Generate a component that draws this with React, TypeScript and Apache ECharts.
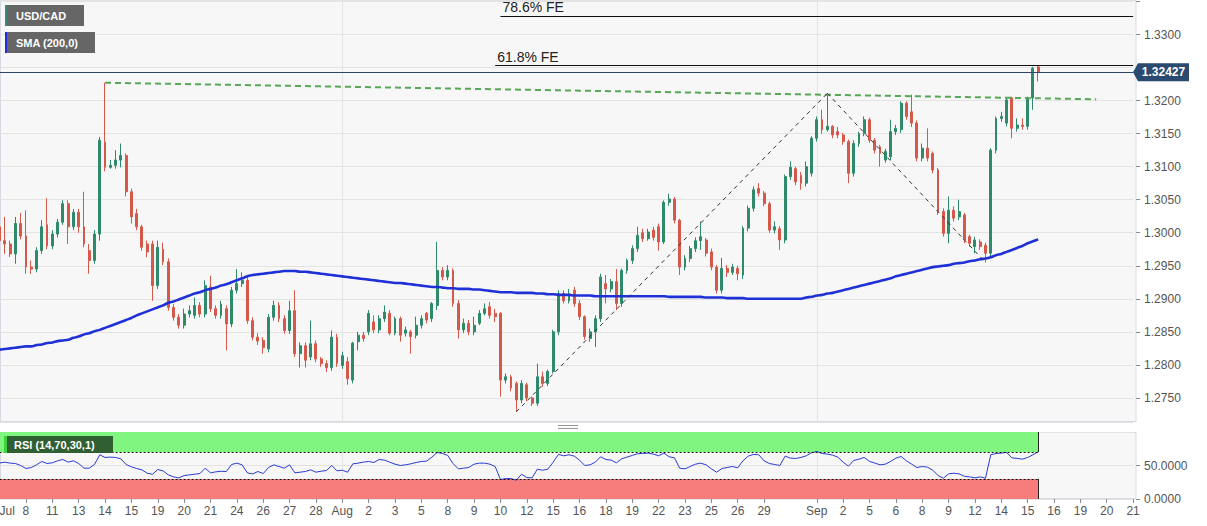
import React, { useEffect, useRef } from "react";
import * as echarts from "echarts";

// ---------- data ----------
const X_TICK_LABELS = [
  "Jul", "8", "11", "13", "14", "15", "19", "20", "21", "24", "26", "27", "28",
  "Aug", "2", "3", "5", "8", "9", "10", "12", "15", "16", "18", "19", "22", "23",
  "25", "26", "29", "", "Sep", "2", "5", "6", "8", "9", "12", "14", "15", "16",
  "19", "20", "21",
];
const SLOT_COUNT = 216;
const TICK_EVERY = 5;

const OPEN = [
  1.3009, 1.2988, 1.2983, 1.2968, 1.3014, 1.2995, 1.2948, 1.2945, 1.2973, 1.3012,
  1.2980, 1.2998, 1.3016, 1.3044, 1.3009, 1.3031, 1.3009, 1.2973, 1.2958, 1.2998,
  1.3137, 1.3099, 1.3102, 1.3110, 1.3117, 1.3062, 1.3029, 1.3009, 1.2983, 1.2983,
  1.2920, 1.2975, 1.2956, 1.2887, 1.2872, 1.2860, 1.2877, 1.2875, 1.2890, 1.2877,
  1.2918, 1.2885, 1.2875, 1.2885, 1.2862, 1.2913, 1.2923, 1.2928, 1.2867, 1.2842,
  1.2837, 1.2824, 1.2872, 1.2890, 1.2870, 1.2852, 1.2882, 1.2817, 1.2829, 1.2812,
  1.2832, 1.2809, 1.2802, 1.2796, 1.2842, 1.2799, 1.2805, 1.2777, 1.2835, 1.2845,
  1.2850, 1.2865, 1.2853, 1.2870, 1.2878, 1.2848, 1.2870, 1.2848, 1.2850, 1.2845,
  1.2860, 1.2878, 1.2870, 1.2890, 1.2943, 1.2933, 1.2943, 1.2893, 1.2853, 1.2863,
  1.2850, 1.2863, 1.2878, 1.2888, 1.2878, 1.2878, 1.2777, 1.2782, 1.2772, 1.2747,
  1.2770, 1.2750, 1.2742, 1.2782, 1.2772, 1.2790, 1.2850, 1.2908, 1.2897, 1.2913,
  1.2893, 1.2873, 1.2840, 1.2850, 1.2870, 1.2923, 1.2915, 1.2926, 1.2893, 1.2943,
  1.2958, 1.2976, 1.3000, 1.2991, 1.3004, 1.3009, 1.2986, 1.3046, 1.3051, 1.3019,
  1.2948, 1.2961, 1.2976, 1.2988, 1.2989, 1.2971, 1.2948, 1.2913, 1.2946, 1.2940,
  1.2946, 1.2936, 1.3007, 1.3037, 1.3067, 1.3060, 1.3044, 1.3004, 1.3006, 1.2989,
  1.3085, 1.3097, 1.3087, 1.3075, 1.3090, 1.3143, 1.3171, 1.3156, 1.3161, 1.3153,
  1.3148, 1.3138, 1.3090, 1.3135, 1.3150, 1.3171, 1.3140, 1.3130, 1.3110, 1.3115,
  1.3153, 1.3156, 1.3196, 1.3183, 1.3166, 1.3113, 1.3128, 1.3120, 1.3095, 1.3032,
  1.2999, 1.3034, 1.3024, 1.3027, 1.2994, 1.2979, 1.2986, 1.2981, 1.2969, 1.3125,
  1.3173, 1.3166, 1.3204, 1.3158, 1.3163, 1.3161, 1.3204, 1.3251,
];
const CLOSE = [
  1.2988, 1.2983, 1.2968, 1.3014, 1.2995, 1.2948, 1.2945, 1.2973, 1.3009, 1.2980,
  1.2998, 1.3016, 1.3044, 1.3009, 1.3031, 1.3009, 1.2983, 1.2958, 1.2998, 1.3140,
  1.3099, 1.3102, 1.3110, 1.3117, 1.3062, 1.3024, 1.3009, 1.2978, 1.2971, 1.2920,
  1.2978, 1.2956, 1.2887, 1.2872, 1.2860, 1.2877, 1.2882, 1.2890, 1.2877, 1.2920,
  1.2885, 1.2875, 1.2892, 1.2862, 1.2913, 1.2923, 1.2928, 1.2867, 1.2842, 1.2836,
  1.2826, 1.2872, 1.2890, 1.2870, 1.2852, 1.2882, 1.2817, 1.2829, 1.2807, 1.2832,
  1.2809, 1.2802, 1.2796, 1.2842, 1.2802, 1.2814, 1.2779, 1.2833, 1.2845, 1.2840,
  1.2878, 1.2853, 1.2870, 1.2880, 1.2848, 1.2870, 1.2845, 1.2853, 1.2843, 1.2860,
  1.2870, 1.2868, 1.2893, 1.2943, 1.2933, 1.2943, 1.2893, 1.2853, 1.2863, 1.2850,
  1.2860, 1.2878, 1.2885, 1.2875, 1.2873, 1.2777, 1.2782, 1.2765, 1.2747, 1.2772,
  1.2750, 1.2742, 1.2782, 1.2772, 1.2790, 1.2850, 1.2908, 1.2897, 1.2908, 1.2893,
  1.2873, 1.2843, 1.2850, 1.2870, 1.2933, 1.2915, 1.2926, 1.2893, 1.2943, 1.2958,
  1.2976, 1.2996, 1.2991, 1.3001, 1.2993, 1.2986, 1.3046, 1.3051, 1.3019, 1.2948,
  1.2961, 1.2976, 1.2988, 1.2994, 1.2969, 1.2948, 1.2913, 1.2946, 1.2940, 1.2948,
  1.2938, 1.3007, 1.3037, 1.3065, 1.3060, 1.3044, 1.3004, 1.3009, 1.2989, 1.3085,
  1.3099, 1.3077, 1.3075, 1.3100, 1.3143, 1.3171, 1.3156, 1.3161, 1.3148, 1.3148,
  1.3138, 1.3090, 1.3135, 1.3150, 1.3171, 1.3140, 1.3125, 1.3120, 1.3123, 1.3153,
  1.3158, 1.3196, 1.3176, 1.3166, 1.3113, 1.3128, 1.3113, 1.3095, 1.3032, 1.2999,
  1.3034, 1.3022, 1.3032, 1.2989, 1.2984, 1.2989, 1.2979, 1.2969, 1.3125, 1.3173,
  1.3176, 1.3201, 1.3158, 1.3163, 1.3161, 1.3204, 1.3249, 1.32427,
];
const LOW = [
  1.2973, 1.2968, 1.2963, 1.2953, 1.2990, 1.2938, 1.2938, 1.2940, 1.2968, 1.2975,
  1.2975, 1.2993, 1.3012, 1.2983, 1.3004, 1.3000, 1.2978, 1.2938, 1.2953, 1.2988,
  1.3093, 1.3097, 1.3097, 1.3099, 1.3055, 1.3014, 1.3004, 1.2973, 1.2963, 1.2897,
  1.2915, 1.2951, 1.2882, 1.2867, 1.2855, 1.2855, 1.2872, 1.2870, 1.2872, 1.2872,
  1.2880, 1.2870, 1.2870, 1.2822, 1.2857, 1.2908, 1.2918, 1.2862, 1.2837, 1.2830,
  1.2817, 1.2819, 1.2867, 1.2865, 1.2847, 1.2847, 1.2812, 1.2796, 1.2796, 1.2807,
  1.2804, 1.2797, 1.2789, 1.2791, 1.2797, 1.2794, 1.2770, 1.2772, 1.2822, 1.2835,
  1.2845, 1.2848, 1.2848, 1.2865, 1.2845, 1.2845, 1.2835, 1.2843, 1.2817, 1.2840,
  1.2855, 1.2863, 1.2865, 1.2883, 1.2928, 1.2928, 1.2888, 1.2840, 1.2848, 1.2845,
  1.2845, 1.2860, 1.2875, 1.2870, 1.2865, 1.2752, 1.2772, 1.2760, 1.2729, 1.2742,
  1.2745, 1.2738, 1.2738, 1.2767, 1.2768, 1.2787, 1.2845, 1.2893, 1.2893, 1.2888,
  1.2868, 1.2838, 1.2835, 1.2827, 1.2865, 1.2893, 1.2910, 1.2883, 1.2888, 1.2938,
  1.2953, 1.2971, 1.2986, 1.2988, 1.2988, 1.2973, 1.2983, 1.3041, 1.3014, 1.2936,
  1.2943, 1.2956, 1.2971, 1.2974, 1.2964, 1.2943, 1.2908, 1.2908, 1.2933, 1.2936,
  1.2928, 1.2930, 1.3002, 1.3032, 1.3055, 1.3040, 1.3000, 1.2999, 1.2974, 1.2984,
  1.3080, 1.3072, 1.3065, 1.3070, 1.3085, 1.3138, 1.3150, 1.3153, 1.3143, 1.3143,
  1.3133, 1.3075, 1.3085, 1.3130, 1.3146, 1.3136, 1.3120, 1.3100, 1.3106, 1.3110,
  1.3148, 1.3151, 1.3171, 1.3160, 1.3108, 1.3108, 1.3108, 1.3090, 1.3027, 1.2994,
  1.2984, 1.3017, 1.3019, 1.2984, 1.2979, 1.2969, 1.2974, 1.2955, 1.2964, 1.3120,
  1.3168, 1.3161, 1.3143, 1.3153, 1.3156, 1.3156, 1.3186, 1.3229,
];
const HIGH = [
  1.3024, 1.3024, 1.2988, 1.3024, 1.3030, 1.3034, 1.2958, 1.2978, 1.3019, 1.3052,
  1.3004, 1.3021, 1.3049, 1.3049, 1.3036, 1.3036, 1.3062, 1.2983, 1.3004, 1.3145,
  1.3227, 1.3110, 1.3125, 1.3135, 1.3120, 1.3067, 1.3036, 1.3012, 1.2988, 1.2988,
  1.2988, 1.2985, 1.2961, 1.2892, 1.2877, 1.2885, 1.2890, 1.2902, 1.2895, 1.2928,
  1.2935, 1.2890, 1.2897, 1.2890, 1.2918, 1.2945, 1.2940, 1.2935, 1.2872, 1.2848,
  1.2842, 1.2877, 1.2897, 1.2895, 1.2875, 1.2897, 1.2913, 1.2834, 1.2834, 1.2867,
  1.2837, 1.2812, 1.2807, 1.2852, 1.2847, 1.2820, 1.2812, 1.2835, 1.2850, 1.2850,
  1.2883, 1.2875, 1.2875, 1.2890, 1.2883, 1.2873, 1.2873, 1.2858, 1.2853, 1.2873,
  1.2875, 1.2880, 1.2895, 1.2986, 1.2948, 1.2951, 1.2946, 1.2898, 1.2870, 1.2868,
  1.2873, 1.2883, 1.2893, 1.2895, 1.2885, 1.2880, 1.2787, 1.2785, 1.2775, 1.2777,
  1.2773, 1.2752, 1.2802, 1.2790, 1.2793, 1.2853, 1.2913, 1.2913, 1.2915, 1.2918,
  1.2898, 1.2875, 1.2855, 1.2875, 1.2938, 1.2936, 1.2930, 1.2945, 1.2946, 1.2961,
  1.2981, 1.3009, 1.3006, 1.3006, 1.3009, 1.3014, 1.3049, 1.3059, 1.3054, 1.3021,
  1.2966, 1.2980, 1.2993, 1.3017, 1.2992, 1.2976, 1.2951, 1.2962, 1.2951, 1.2953,
  1.2950, 1.3010, 1.3041, 1.3070, 1.3075, 1.3063, 1.3047, 1.3017, 1.3010, 1.3088,
  1.3108, 1.3100, 1.3092, 1.3108, 1.3146, 1.3176, 1.3186, 1.3211, 1.3163, 1.3160,
  1.3151, 1.3141, 1.3140, 1.3153, 1.3176, 1.3174, 1.3143, 1.3133, 1.3127, 1.3171,
  1.3163, 1.3199, 1.3199, 1.3209, 1.3170, 1.3135, 1.3158, 1.3123, 1.3098, 1.3037,
  1.3055, 1.3040, 1.3050, 1.3030, 1.2997, 1.2994, 1.2990, 1.2985, 1.3128, 1.3176,
  1.3183, 1.3204, 1.3206, 1.3173, 1.3173, 1.3206, 1.3251, 1.3253,
];
const SMA200 = [
  1.2823, 1.2824, 1.2825, 1.2826, 1.2827, 1.2828, 1.2828, 1.2830, 1.2831, 1.2833,
  1.2834, 1.2836, 1.2837, 1.2838, 1.2841, 1.2843, 1.2846, 1.2848, 1.2851, 1.2853,
  1.2856, 1.2859, 1.2862, 1.2865, 1.2868, 1.2871, 1.2875, 1.2878, 1.2881, 1.2884,
  1.2887, 1.2890, 1.2894, 1.2896, 1.2899, 1.2902, 1.2905, 1.2908, 1.2910, 1.2913,
  1.2915, 1.2917, 1.2920, 1.2922, 1.2925, 1.2928, 1.2931, 1.2934, 1.2936, 1.2937,
  1.2938, 1.2939, 1.2940, 1.2941, 1.2942, 1.2942, 1.2942, 1.2941, 1.2941, 1.2940,
  1.2939, 1.2938, 1.2937, 1.2936, 1.2935, 1.2934, 1.2933, 1.2932, 1.2931, 1.2930,
  1.2929, 1.2928, 1.2927, 1.2926, 1.2925, 1.2924, 1.2924, 1.2923, 1.2922, 1.2921,
  1.2920, 1.2919, 1.2918, 1.2918, 1.2917, 1.2916, 1.2916, 1.2915, 1.2915, 1.2915,
  1.2914, 1.2914, 1.2913, 1.2912, 1.2911, 1.2910, 1.2910, 1.2910, 1.2909, 1.2909,
  1.2909, 1.2909, 1.2908, 1.2908, 1.2907, 1.2907, 1.2906, 1.2906, 1.2906, 1.2905,
  1.2905, 1.2905, 1.2905, 1.2904, 1.2904, 1.2904, 1.2904, 1.2904, 1.2904, 1.2904,
  1.2904, 1.2904, 1.2904, 1.2904, 1.2904, 1.2904, 1.2904, 1.2903, 1.2903, 1.2903,
  1.2903, 1.2903, 1.2903, 1.2903, 1.2902, 1.2902, 1.2902, 1.2902, 1.2901, 1.2901,
  1.2901, 1.2901, 1.2900, 1.2900, 1.2900, 1.2900, 1.2900, 1.2900, 1.2900, 1.2900,
  1.2900, 1.2900, 1.2900, 1.2902, 1.2903, 1.2905, 1.2906, 1.2908, 1.2909, 1.2911,
  1.2913, 1.2915, 1.2917, 1.2919, 1.2921, 1.2923, 1.2925, 1.2927, 1.2929, 1.2931,
  1.2934, 1.2936, 1.2938, 1.2940, 1.2942, 1.2944, 1.2946, 1.2948, 1.2949, 1.2950,
  1.2951, 1.2953, 1.2954, 1.2955, 1.2957, 1.2958, 1.2960, 1.2961, 1.2963, 1.2966,
  1.2968, 1.2971, 1.2974, 1.2977, 1.2980, 1.2984, 1.2987, 1.2990,
];
const RSI14 = [
  53.7, 55, 53.5, 53, 50, 45.5, 47, 51, 56, 53,
  54, 57, 59, 55, 57, 53, 46, 46, 51.5, 66,
  62, 62.5, 62, 60, 51.5, 48, 45.5, 43.5, 38.5, 37,
  44, 42, 36, 33, 31.5, 35, 36, 37, 38, 46,
  39, 40.5, 41.4, 41, 51.5, 53.5, 51, 39, 37.5, 41,
  38, 47, 51, 48.5, 46, 51, 39, 40, 41, 43.5,
  40, 41.5, 42.5, 50, 42, 43, 40, 52.5, 53.5, 55,
  56, 54.5, 59, 58, 55, 52, 50, 51, 52.5, 54.5,
  56, 56.5, 62.5, 69.5, 68, 65, 53, 45, 46, 47,
  52, 53.5, 53.5, 52, 48.5, 29, 30.5, 30.5, 28, 37,
  32, 31.5, 44.5, 43, 44.5, 55, 66.5, 64.5, 66, 64,
  58, 50, 51, 55, 63, 59, 58, 54, 60, 62.5,
  65, 67.5, 68, 68.5, 67, 64.5, 68.5, 63, 61.5, 46,
  45, 48.5, 52, 53.5, 51, 45, 40, 45.5, 47, 48.5,
  46.5, 57, 64, 66.5, 66, 57, 53, 51.5, 50, 64,
  61, 60.5, 62, 64.5, 69, 71, 68, 67, 65.5, 62.5,
  55, 49, 57.5, 59.5, 62, 56, 53.7, 51, 52, 56,
  61, 63.5, 57, 52, 47, 48.5, 47.5, 43, 35, 31,
  37.5, 38.5, 37.5, 34, 33, 31.5, 33, 31, 66, 68,
  68.5, 69.5, 61.5, 60.5, 59.5, 62, 66, 70.5,
];
const FE_LABELS = ["61.8% FE", "78.6% FE"];
const FE_VALUES = [1.3253, 1.3328];
const FE_START_INDEX = [94, 95];
const RESISTANCE_INDEX = [20, 208];
const RESISTANCE_VALUE = [1.3227, 1.3202];
const SWING_INDEX = [98, 157, 187];
const SWING_VALUE = [1.2729, 1.3211, 1.2955];
const RSI_LEVELS = [30, 70];
const PRICE_MIN = 1.271359;
const PRICE_MAX = 1.335221;

// ---------- styling ----------
const UP = "#2e8a6b";
const DOWN = "#d5594a";
const FONT = "Arial, 'Liberation Sans', Helvetica, sans-serif";
const PLOT_RIGHT = 1136;
const SLOT_LEFT = -0.4;
const SLOT_WIDTH_TOTAL = 1133.5;

export default function App() {
  const ref = useRef<HTMLDivElement>(null);

  useEffect(() => {
    if (!ref.current) return;
    const chart = echarts.init(ref.current, null, { renderer: "svg" });

    const slots = Array.from({ length: SLOT_COUNT }, (_, i) => String(i));
    const labelAt = (i: number) =>
      i % TICK_EVERY === 0 && i / TICK_EVERY < X_TICK_LABELS.length
        ? X_TICK_LABELS[i / TICK_EVERY]
        : "";
    const isTick = (i: number) => labelAt(i) !== "";
    const isMonth = (i: number) => labelAt(i) === "Aug" || labelAt(i) === "Sep";
    const candles = OPEN.map((o, i) => [o, CLOSE[i], LOW[i], HIGH[i]]);
    const lastIdx = CLOSE.length - 1;
    const lastPrice = CLOSE[lastIdx];

    const gridLine = { color: "#e3e3e3", width: 1 };

    const priceLabel = (v: number) => {
      if (v > PRICE_MAX - 0.001) return "";
      if (Math.abs(v - lastPrice) < 0.0012) return "";
      return v.toFixed(4);
    };

    const option: any = {
      animation: false,
      backgroundColor: "#ffffff",
      textStyle: { fontFamily: FONT },
      grid: [
        {
          left: SLOT_LEFT,
          top: 0,
          width: SLOT_WIDTH_TOTAL,
          height: 422,
          containLabel: false,
          outerBoundsMode: "none",
        },
        {
          left: SLOT_LEFT,
          top: 432,
          width: SLOT_WIDTH_TOTAL,
          height: 67,
          containLabel: false,
          outerBoundsMode: "none",
        },
      ],
      xAxis: [
        {
          type: "category",
          gridIndex: 0,
          data: slots,
          boundaryGap: false,
          axisLine: { show: false },
          axisTick: { show: false },
          axisLabel: { show: false },
          splitLine: { show: true, interval: (i: number) => isMonth(i), lineStyle: gridLine },
        },
        {
          type: "category",
          gridIndex: 1,
          data: slots,
          boundaryGap: false,
          axisLine: { show: false },
          axisTick: {
            show: true,
            interval: (i: number) => isTick(i),
            length: 4,
            lineStyle: { color: "#8a8a8a" },
          },
          axisLabel: {
            interval: (i: number) => isTick(i),
            formatter: (v: string) => labelAt(Number(v)),
            color: "#555",
            fontSize: 12,
            margin: 6,
            alignMinLabel: "left",
          },
          splitLine: { show: true, interval: (i: number) => isMonth(i), lineStyle: gridLine },
        },
      ],
      yAxis: [
        {
          type: "value",
          gridIndex: 0,
          position: "right",
          offset: 3,
          min: PRICE_MIN,
          max: PRICE_MAX,
          splitNumber: 13,
          minInterval: 0.005,
          maxInterval: 0.005,
          axisLine: { show: false },
          axisTick: { show: true, length: 4, lineStyle: { color: "#8a8a8a" } },
          axisLabel: {
            formatter: priceLabel,
            color: "#555",
            fontSize: 12,
            margin: 8,
            showMinLabel: false,
            showMaxLabel: false,
          },
          splitLine: { show: true, lineStyle: gridLine },
        },
        {
          type: "value",
          gridIndex: 1,
          position: "right",
          offset: 3,
          min: 0,
          max: 100,
          interval: 50,
          axisLine: { show: false },
          axisTick: { show: true, length: 4, lineStyle: { color: "#8a8a8a" } },
          axisLabel: {
            formatter: (v: number) => v.toFixed(4),
            color: "#555",
            fontSize: 12,
            margin: 8,
            showMaxLabel: false,
          },
          splitLine: { show: true, lineStyle: gridLine },
        },
      ],
      series: [
        {
          type: "candlestick",
          name: "USD/CAD",
          xAxisIndex: 0,
          yAxisIndex: 0,
          data: candles,
          barWidth: 2.4,
          itemStyle: {
            color: UP,
            color0: DOWN,
            borderColor: UP,
            borderColor0: DOWN,
            borderWidth: 1,
          },
          z: 2,
          markLine: {
            silent: true,
            symbol: ["none", "none"],
            animation: false,
            label: { show: false },
            data: [
              [
                {
                  coord: [0, lastPrice],
                  lineStyle: { color: "#2c4568", width: 1, type: "solid" },
                  label: { show: false },
                },
                { coord: [SLOT_COUNT - 1, lastPrice] },
              ],
              ...FE_VALUES.map((v, k) => [
                {
                  coord: [FE_START_INDEX[k], v],
                  lineStyle: { color: "#111", width: 1, type: "solid" },
                  label: {
                    show: true,
                    position: "insideStartTop",
                    formatter: FE_LABELS[k],
                    color: "#222",
                    fontSize: 14,
                    distance: 2,
                  },
                },
                { coord: [SLOT_COUNT - 1, v] },
              ]),
              [
                {
                  coord: [RESISTANCE_INDEX[0], RESISTANCE_VALUE[0]],
                  lineStyle: { color: "#55a855", width: 2, type: [6, 4] },
                },
                { coord: [RESISTANCE_INDEX[1], RESISTANCE_VALUE[1]] },
              ],
              [
                {
                  coord: [SWING_INDEX[0], SWING_VALUE[0]],
                  lineStyle: { color: "#333", width: 1, type: [4, 4] },
                },
                { coord: [SWING_INDEX[1], SWING_VALUE[1]] },
              ],
              [
                {
                  coord: [SWING_INDEX[1], SWING_VALUE[1]],
                  lineStyle: { color: "#333", width: 1, type: [4, 4] },
                },
                { coord: [SWING_INDEX[2], SWING_VALUE[2]] },
              ],
            ],
          },
        },
        {
          type: "line",
          name: "SMA (200,0)",
          xAxisIndex: 0,
          yAxisIndex: 0,
          data: SMA200,
          showSymbol: false,
          smooth: 0.3,
          lineStyle: { color: "#1f31d6", width: 2.6 },
          z: 4,
        },
        {
          type: "line",
          name: "RSI",
          xAxisIndex: 1,
          yAxisIndex: 1,
          data: RSI14,
          showSymbol: false,
          lineStyle: { color: "#2a3bd0", width: 1 },
          z: 3,
          markArea: {
            silent: true,
            data: [
              [
                { coord: [0, RSI_LEVELS[1]], itemStyle: { color: "#80f580" } },
                { coord: [lastIdx, 100] },
              ],
              [
                { coord: [0, 0], itemStyle: { color: "#f77c7c" } },
                { coord: [lastIdx, RSI_LEVELS[0]] },
              ],
            ],
          },
          markLine: {
            silent: true,
            symbol: ["none", "none"],
            label: { show: false },
            data: [
              ...RSI_LEVELS.map((lv) => [
                { coord: [0, lv], lineStyle: { color: "#111", width: 1, type: [2, 2] } },
                { coord: [lastIdx, lv] },
              ]),
              [
                { coord: [lastIdx, RSI_LEVELS[1]], lineStyle: { color: "#222", width: 1, type: "solid" } },
                { coord: [lastIdx, 100] },
              ],
              [
                { coord: [lastIdx, 0], lineStyle: { color: "#222", width: 1, type: "solid" } },
                { coord: [lastIdx, RSI_LEVELS[0]] },
              ],
            ],
          },
        },
      ],
      graphic: {
        elements: [
          {
            id: "bgMain",
            type: "rect",
            z: -10,
            shape: { x: 0.5, y: 0.5, width: PLOT_RIGHT - 0.5, height: 421 },
            style: { fill: "#f7f7f7", stroke: "#d8d8e2", lineWidth: 1 },
          },
          {
            id: "bgRsi",
            type: "rect",
            z: -10,
            shape: { x: 0.5, y: 432.5, width: PLOT_RIGHT - 0.5, height: 66 },
            style: { fill: "#f7f7f7", stroke: "#d8d8e2", lineWidth: 1 },
          },
          {
            id: "handle1",
            type: "line",
            z: 50,
            shape: { x1: 558, y1: 425.5, x2: 578, y2: 425.5 },
            style: { stroke: "#9a9a9a", lineWidth: 1 },
          },
          {
            id: "handle2",
            type: "line",
            z: 50,
            shape: { x1: 558, y1: 428.5, x2: 578, y2: 428.5 },
            style: { stroke: "#9a9a9a", lineWidth: 1 },
          },
          {
            id: "legPriceBox",
            type: "rect",
            z: 100,
            shape: { x: 5, y: 5, width: 79, height: 21 },
            style: { fill: "#666666" },
          },
          {
            id: "legPriceStrip",
            type: "rect",
            z: 101,
            shape: { x: 5, y: 5, width: 2, height: 21 },
            style: { fill: "#3a8a72" },
          },
          {
            id: "legPriceText",
            type: "text",
            z: 102,
            x: 16,
            y: 15.5,
            style: {
              text: "USD/CAD",
              fill: "#ffffff",
              font: "bold 11px " + FONT,
              align: "left",
              verticalAlign: "middle",
              textAlign: "left",
              textVerticalAlign: "middle",
            },
          },
          {
            id: "legSmaBox",
            type: "rect",
            z: 100,
            shape: { x: 5, y: 32, width: 90, height: 21 },
            style: { fill: "#666666" },
          },
          {
            id: "legSmaStrip",
            type: "rect",
            z: 101,
            shape: { x: 5, y: 32, width: 2, height: 21 },
            style: { fill: "#1f31d6" },
          },
          {
            id: "legSmaText",
            type: "text",
            z: 102,
            x: 16,
            y: 42.5,
            style: {
              text: "SMA (200,0)",
              fill: "#ffffff",
              font: "bold 11px " + FONT,
              align: "left",
              verticalAlign: "middle",
              textAlign: "left",
              textVerticalAlign: "middle",
            },
          },
          {
            id: "legRsiBox",
            type: "rect",
            z: 100,
            shape: { x: 5, y: 436, width: 108, height: 17 },
            style: { fill: "#2f5f33" },
          },
          {
            id: "legRsiStrip",
            type: "rect",
            z: 101,
            shape: { x: 4, y: 436, width: 3, height: 17 },
            style: { fill: "#3fd23f" },
          },
          {
            id: "legRsiText",
            type: "text",
            z: 102,
            x: 14,
            y: 444.5,
            style: {
              text: "RSI (14,70,30,1)",
              fill: "#ffffff",
              font: "bold 11px " + FONT,
              align: "left",
              verticalAlign: "middle",
              textAlign: "left",
              textVerticalAlign: "middle",
            },
          },
        ],
      },
    };

    chart.setOption(option);

    const py = chart.convertToPixel({ yAxisIndex: 0 }, lastPrice) as number;
    chart.setOption({
      graphic: {
        elements: [
          {
            id: "priceTag",
            type: "polygon",
            z: 110,
            shape: {
              points: [
                [1133, py],
                [1138, py - 9],
                [1189, py - 9],
                [1189, py + 9],
                [1138, py + 9],
              ],
            },
            style: { fill: "#2b4a70" },
          },
          {
            id: "priceTagText",
            type: "text",
            z: 111,
            x: 1163.5,
            y: py,
            style: {
              text: lastPrice.toFixed(5),
              fill: "#ffffff",
              font: "bold 12px " + FONT,
              align: "center",
              verticalAlign: "middle",
              textAlign: "center",
              textVerticalAlign: "middle",
            },
          },
        ],
      },
    });

    return () => chart.dispose();
  }, []);

  return (
    <div
      ref={ref}
      style={{ position: "fixed", left: 0, top: 0, width: 1207, height: 526, background: "#fff" }}
    />
  );
}
